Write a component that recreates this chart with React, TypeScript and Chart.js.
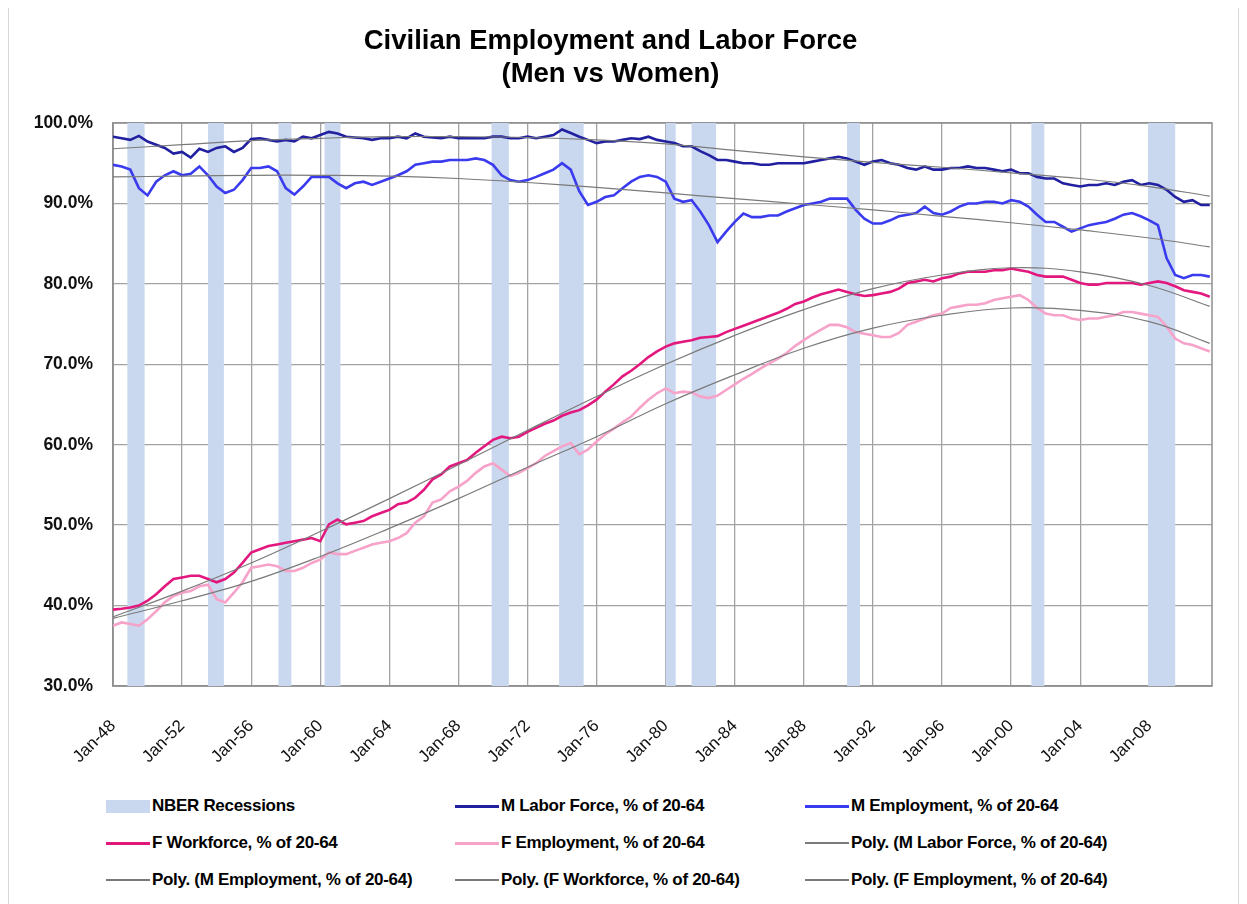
import React, { useEffect, useRef } from "react";
import { Chart, registerables } from "chart.js";

Chart.register(...registerables);

// Half-year periods from Jan-1948 to Jul-2011
const firstYear = 1948;
const periodCount = 128;
const periods: number[] = Array.from({ length: periodCount }, (_, i) => firstYear + i / 2);

const mLaborForce = [
  98.3, 98.1, 97.9, 98.4, 97.7, 97.3, 96.9, 96.2,
  96.4, 95.7, 96.8, 96.4, 96.9, 97.1, 96.4, 96.9,
  98.0, 98.1, 97.9, 97.7, 97.9, 97.7, 98.3, 98.1,
  98.5, 98.9, 98.7, 98.3, 98.2, 98.1, 97.9, 98.1,
  98.1, 98.3, 98.1, 98.7, 98.3, 98.2, 98.1, 98.3,
  98.1, 98.1, 98.1, 98.1, 98.3, 98.3, 98.1, 98.1,
  98.3, 98.1, 98.3, 98.5, 99.2, 98.75, 98.3, 97.9,
  97.5, 97.7, 97.7, 97.9, 98.1, 98.0, 98.3, 97.9,
  97.7, 97.5, 97.1, 97.1, 96.5, 96.0, 95.4, 95.4,
  95.2, 95.0, 95.0, 94.8, 94.8, 95.0, 95.0, 95.0,
  95.0, 95.2, 95.4, 95.6, 95.8, 95.6, 95.2, 94.8,
  95.2, 95.4, 95.0, 94.8, 94.4, 94.2, 94.6, 94.2,
  94.2, 94.4, 94.4, 94.6, 94.4, 94.4, 94.2, 94.0,
  94.2, 93.75, 93.75, 93.3, 93.1, 93.1, 92.5, 92.3,
  92.1, 92.3, 92.3, 92.5, 92.3, 92.7, 92.9, 92.3,
  92.5, 92.3, 91.7, 90.8, 90.2, 90.4, 89.8, 89.8,
];

const mEmployment = [
  94.8, 94.6, 94.2, 91.9, 91.0, 92.7, 93.5, 94.0,
  93.5, 93.7, 94.6, 93.5, 92.1, 91.3, 91.7, 92.9,
  94.4, 94.4, 94.6, 94.0, 91.9, 91.1, 92.1, 93.3,
  93.3, 93.3, 92.5, 91.9, 92.5, 92.7, 92.3, 92.7,
  93.1, 93.5, 94.0, 94.8, 95.0, 95.2, 95.2, 95.4,
  95.4, 95.4, 95.6, 95.4, 94.8, 93.5, 92.9, 92.7,
  92.9, 93.3, 93.75, 94.2, 95.0, 94.2, 91.5, 89.8,
  90.2, 90.8, 91.0, 91.9, 92.7, 93.3, 93.5, 93.3,
  92.7, 90.6, 90.2, 90.4, 89.0, 87.3, 85.2, 86.5,
  87.7, 88.75, 88.3, 88.3, 88.5, 88.5, 89.0, 89.4,
  89.8, 90.0, 90.2, 90.6, 90.6, 90.6, 89.2, 88.1,
  87.5, 87.5, 87.9, 88.4, 88.6, 88.8, 89.6, 88.8,
  88.6, 89.0, 89.6, 90.0, 90.0, 90.2, 90.2, 90.0,
  90.4, 90.2, 89.6, 88.6, 87.7, 87.7, 87.1, 86.5,
  86.9, 87.3, 87.5, 87.7, 88.1, 88.6, 88.8, 88.4,
  87.9, 87.3, 83.2, 81.1, 80.7, 81.1, 81.1, 80.9,
];

const fWorkforce = [
  39.5, 39.6, 39.75, 40.0, 40.6, 41.4, 42.4, 43.3,
  43.5, 43.7, 43.7, 43.3, 42.9, 43.3, 44.1, 45.3,
  46.6, 47.0, 47.4, 47.6, 47.8, 48.0, 48.2, 48.4,
  48.0, 50.1, 50.7, 50.1, 50.3, 50.5, 51.1, 51.5,
  51.9, 52.6, 52.8, 53.4, 54.4, 55.7, 56.3, 57.3,
  57.7, 58.1, 59.0, 59.8, 60.6, 61.0, 60.8, 61.0,
  61.6, 62.1, 62.6, 63.0, 63.6, 64.0, 64.3, 64.9,
  65.6, 66.6, 67.5, 68.5, 69.2, 70.0, 70.9, 71.6,
  72.2, 72.6, 72.8, 73.0, 73.3, 73.4, 73.5, 74.0,
  74.4, 74.8, 75.2, 75.6, 76.0, 76.4, 76.9, 77.5,
  77.8, 78.3, 78.7, 79.0, 79.3, 79.0, 78.7, 78.5,
  78.6, 78.8, 79.0, 79.4, 80.1, 80.3, 80.5, 80.3,
  80.7, 80.9, 81.3, 81.5, 81.5, 81.5, 81.7, 81.7,
  81.9, 81.7, 81.5, 81.1, 80.9, 80.9, 80.9, 80.5,
  80.1, 79.9, 79.9, 80.1, 80.1, 80.1, 80.1, 79.9,
  80.1, 80.3, 80.1, 79.7, 79.2, 79.0, 78.8, 78.4,
];

const fEmployment = [
  37.5, 37.9, 37.7, 37.5, 38.3, 39.3, 40.4, 41.2,
  41.6, 41.8, 42.4, 42.6, 40.8, 40.4, 41.6, 42.9,
  44.7, 44.9, 45.1, 44.9, 44.3, 44.3, 44.7, 45.3,
  45.7, 46.6, 46.4, 46.4, 46.8, 47.2, 47.6, 47.8,
  48.0, 48.4, 49.0, 50.3, 51.1, 52.8, 53.2, 54.2,
  54.8, 55.5, 56.5, 57.3, 57.7, 56.9, 56.1, 56.5,
  57.1, 57.7, 58.6, 59.2, 59.8, 60.2, 58.8, 59.4,
  60.4, 61.3, 62.0, 62.8, 63.5, 64.6, 65.6, 66.4,
  67.0, 66.4, 66.6, 66.5, 66.0, 65.8, 66.1, 66.8,
  67.5, 68.2, 68.8, 69.5, 70.1, 70.7, 71.4, 72.3,
  73.0, 73.7, 74.3, 74.9, 74.9, 74.6, 74.0, 73.8,
  73.6, 73.4, 73.4, 73.9, 74.9, 75.3, 75.7, 76.1,
  76.3, 77.0, 77.2, 77.4, 77.4, 77.6, 78.0, 78.2,
  78.4, 78.6, 78.0, 77.0, 76.3, 76.1, 76.1, 75.7,
  75.5, 75.7, 75.7, 75.9, 76.1, 76.5, 76.5, 76.3,
  76.1, 75.9, 74.7, 73.2, 72.6, 72.4, 72.0, 71.6,
];

// Polynomial trend lines, read every 4 years
const trendYears = [1948, 1952, 1956, 1960, 1964, 1968, 1972, 1976, 1980, 1984, 1988, 1992, 1996, 2000, 2004, 2008, 2011.5];
const polyMLabor = [96.8, 97.3, 97.8, 98.1, 98.3, 98.3, 98.2, 97.9, 97.4, 96.6, 95.8, 95.1, 94.5, 93.8, 93.1, 92.1, 90.9];
const polyMEmp = [93.3, 93.4, 93.5, 93.5, 93.4, 93.1, 92.6, 92.0, 91.3, 90.6, 89.9, 89.2, 88.4, 87.6, 86.7, 85.7, 84.6];
const polyFWork = [38.6, 41.8, 45.3, 49.2, 53.3, 57.5, 61.8, 66.0, 70.0, 73.6, 76.8, 79.4, 81.1, 82.0, 81.5, 79.8, 77.2];
const polyFEmp = [38.4, 40.6, 43.0, 46.1, 49.6, 53.3, 57.2, 61.0, 65.1, 68.7, 72.0, 74.5, 76.1, 77.0, 76.7, 75.3, 72.6];

// NBER recessions (decimal years, start of peak month to end of trough month)
const recessionStarts = [1948.83, 1953.5, 1957.58, 1960.25, 1969.92, 1973.83, 1980.0, 1981.5, 1990.5, 2001.17, 2007.92];
const recessionEnds = [1949.83, 1954.42, 1958.33, 1961.17, 1970.92, 1975.25, 1980.58, 1982.92, 1991.25, 2001.92, 2009.5];

const xTickYears = [1948, 1952, 1956, 1960, 1964, 1968, 1972, 1976, 1980, 1984, 1988, 1992, 1996, 2000, 2004, 2008];
const xMin = 1948;
const xMax = 2011.63;
const yMin = 30;
const yMax = 100;

const titleLines = ["Civilian Employment and Labor Force", "(Men vs Women)"];

const C_MLF = "#2020a0";
const C_MEMP = "#3a3aee";
const C_FWF = "#e3187f";
const C_FEMP = "#f6a2c9";
const C_POLY = "#7a7a7a";
const C_BAND = "#c9d8ee";

const legendItems = [
  { label: "NBER Recessions", color: C_BAND, kind: "box" },
  { label: "M Labor Force, % of 20-64", color: C_MLF, kind: "line" },
  { label: "M Employment, % of 20-64", color: C_MEMP, kind: "line" },
  { label: "F Workforce, % of 20-64", color: C_FWF, kind: "line" },
  { label: "F Employment, % of 20-64", color: C_FEMP, kind: "line" },
  { label: "Poly. (M Labor Force, % of 20-64)", color: C_POLY, kind: "thin" },
  { label: "Poly. (M Employment, % of 20-64)", color: C_POLY, kind: "thin" },
  { label: "Poly. (F Workforce, % of 20-64)", color: C_POLY, kind: "thin" },
  { label: "Poly. (F Employment, % of 20-64)", color: C_POLY, kind: "thin" },
];

const pts = (xs: number[], ys: number[]) => ys.map((y, i) => ({ x: xs[i], y }));

export default function App() {
  const ref = useRef<HTMLCanvasElement | null>(null);

  useEffect(() => {
    if (!ref.current) return;
    const bandPts: { x: number; y: number }[] = [{ x: xMin, y: yMin }];
    recessionStarts.forEach((s, i) => {
      const e = recessionEnds[i];
      bandPts.push({ x: s, y: yMin }, { x: s, y: yMax }, { x: e, y: yMax }, { x: e, y: yMin });
    });
    bandPts.push({ x: xMax, y: yMin });

    const frame = {
      id: "frame",
      beforeDatasetsDraw(chart: any) {
        const { ctx, chartArea: a } = chart;
        ctx.save();
        ctx.strokeStyle = "#8f8f8f";
        ctx.lineWidth = 1.5;
        ctx.strokeRect(a.left, a.top, a.right - a.left, a.bottom - a.top);
        ctx.restore();
      },
    };

    const dataLine = (label: string, data: number[], color: string) => ({
      label,
      data: pts(periods, data),
      borderColor: color,
      backgroundColor: color,
      borderWidth: 2.6,
      pointRadius: 0,
      tension: 0,
      fill: false,
      order: 2,
    });
    const polyLine = (label: string, data: number[]) => ({
      label,
      data: pts(trendYears, data),
      borderColor: C_POLY,
      backgroundColor: C_POLY,
      borderWidth: 1.2,
      pointRadius: 0,
      tension: 0.4,
      fill: false,
      order: 1,
    });

    const chart = new Chart(ref.current, {
      type: "line",
      data: {
        datasets: [
          {
            label: "NBER Recessions",
            data: bandPts,
            borderWidth: 0,
            borderColor: "rgba(0,0,0,0)",
            backgroundColor: C_BAND,
            pointRadius: 0,
            tension: 0,
            fill: "start",
            order: 3,
          } as any,
          dataLine("M Labor Force, % of 20-64", mLaborForce, C_MLF),
          dataLine("M Employment, % of 20-64", mEmployment, C_MEMP),
          dataLine("F Workforce, % of 20-64", fWorkforce, C_FWF),
          dataLine("F Employment, % of 20-64", fEmployment, C_FEMP),
          polyLine("Poly. (M Labor Force, % of 20-64)", polyMLabor),
          polyLine("Poly. (M Employment, % of 20-64)", polyMEmp),
          polyLine("Poly. (F Workforce, % of 20-64)", polyFWork),
          polyLine("Poly. (F Employment, % of 20-64)", polyFEmp),
        ],
      },
      options: {
        responsive: false,
        animation: false,
        layout: { padding: { left: 0, right: 26, top: 0, bottom: 0 } },
        plugins: {
          legend: { display: false },
          tooltip: { enabled: false },
          title: {
            display: true,
            text: titleLines,
            color: "#000",
            font: { family: "'Liberation Sans', Arial, sans-serif", size: 27.5, weight: "bold", lineHeight: "33px" },
            padding: { top: 18, bottom: 32 },
          },
        },
        scales: {
          x: {
            type: "linear",
            min: xMin,
            max: xMax,
            afterBuildTicks: (s: any) => {
              s.ticks = xTickYears.map((v) => ({ value: v }));
            },
            afterFit: (s: any) => {
              s.height = 91;
            },
            grid: { color: "#a3a3a3", lineWidth: 1.3, drawTicks: false },
            border: { color: "#8f8f8f", width: 1.5 },
            ticks: {
              autoSkip: false,
              minRotation: 45,
              maxRotation: 45,
              padding: 30,
              color: "#111",
              font: { family: "'Liberation Sans', Arial, sans-serif", size: 17 },
              callback: (v: any) => "Jan-" + String(v).slice(2, 4),
            },
          },
          y: {
            min: yMin,
            max: yMax,
            afterFit: (s: any) => {
              s.width = 104;
            },
            grid: { color: "#a3a3a3", lineWidth: 1.3, drawTicks: false },
            border: { color: "#8f8f8f", width: 1.5 },
            ticks: {
              stepSize: 10,
              padding: 20,
              color: "#111",
              font: { family: "'Liberation Sans', Arial, sans-serif", size: 17.5, weight: "bold" },
              callback: (v: any) => Number(v).toFixed(1) + "%",
            },
          },
        },
      } as any,
      plugins: [frame],
    });
    return () => chart.destroy();
  }, []);

  const colLeft = [97, 446, 796];
  const rowCenter = [799, 836, 873];

  return (
    <div
      style={{
        position: "relative",
        margin: "-3px 0 0 -1px",
        width: 1229,
        height: 930,
        border: "2px solid #d9d9d9",
        background: "#fff",
        fontFamily: "'Liberation Sans', Arial, sans-serif",
      }}
    >
      <canvas ref={ref} width={1229} height={770} style={{ display: "block", width: 1229, height: 770 }} />
      {legendItems.map((it, i) => {
        const r = Math.floor(i / 3);
        const c = i % 3;
        return (
          <div
            key={it.label}
            style={{
              position: "absolute",
              left: colLeft[c],
              top: rowCenter[r] - 11,
              height: 22,
              display: "flex",
              alignItems: "center",
              whiteSpace: "nowrap",
            }}
          >
            <span
              style={{
                display: "inline-block",
                width: 44,
                height: it.kind === "box" ? 13 : it.kind === "line" ? 3 : 1.5,
                background: it.color,
              }}
            />
            <span style={{ marginLeft: 2, fontWeight: "bold", fontSize: 17, color: "#000", letterSpacing: -0.3 }}>{it.label}</span>
          </div>
        );
      })}
    </div>
  );
}
